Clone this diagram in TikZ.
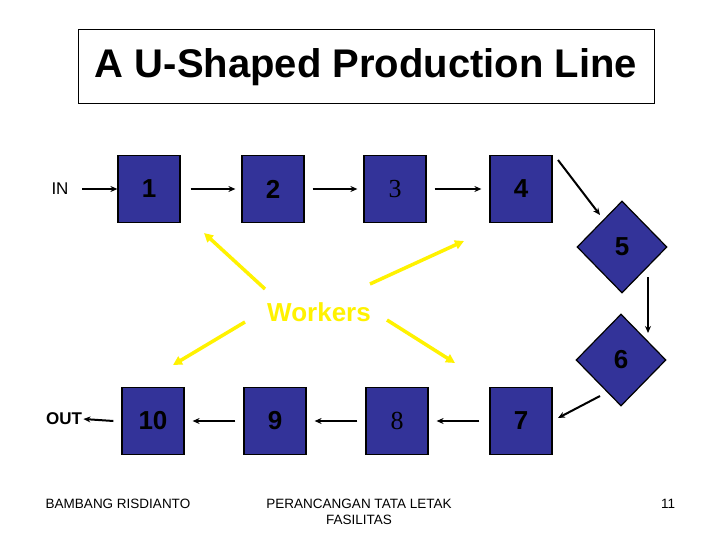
\documentclass[tikz,border=0pt]{standalone}
\usepackage{fontspec}
\setmainfont{Liberation Sans}
\newfontfamily\serif{Liberation Serif}
\usetikzlibrary{shapes.geometric,arrows.meta}
\definecolor{boxblue}{HTML}{333399}
\begin{document}
\begin{tikzpicture}[x=1pt,y=-1pt,
  stbox/.style={draw=black,line width=1.2pt,fill=boxblue,minimum width=62pt,minimum height=67pt,inner sep=0pt,font=\bfseries\fontsize{26}{26}\selectfont},
  dia/.style={diamond,draw=black,line width=1.2pt,fill=boxblue,minimum width=90pt,minimum height=92pt,inner sep=0pt,font=\bfseries\fontsize{26}{26}\selectfont},
  flow/.style={-{Stealth[length=7pt,width=6pt]},line width=2pt},
  yel/.style={-{Triangle[length=9pt,width=9pt]},line width=3.5pt,yellow},
  foot/.style={font=\fontsize{13.5}{16}\selectfont,align=center}]
\fill[white] (0,0) rectangle (720,540);
\node[draw,line width=1pt,minimum width=576pt,minimum height=74pt] (title) at (366,67) {\bfseries\fontsize{40}{40}\selectfont A U-Shaped Production Line};
\node[font=\fontsize{17}{17}\selectfont] (in) at (60,189) {IN};
\node[stbox] (b1) at (149,189) {1};
\node[stbox] (b2) at (273,189) {2};
\node[stbox] (b3) at (395,189) {\mdseries\serif 3};
\node[stbox] (b4) at (521,189) {4};
\node[dia] (d5) at (622,247) {5};
\node[dia] (d6) at (621,360) {6};
\node[stbox] (b7) at (521,421) {7};
\node[stbox] (b8) at (397,421) {\mdseries\serif 8};
\node[stbox] (b9) at (275,421) {9};
\node[stbox] (b10) at (153,421) {10};
\node[font=\bfseries\fontsize{17}{17}\selectfont] (out) at (64,419) {OUT};
\draw[flow] (in.east)++(10,0) -- (b1.west);
\draw[flow] (b1.east)++(10,0) -- ([xshift=-6pt]b2.west);
\draw[flow] (b2.east)++(8,0) -- ([xshift=-6pt]b3.west);
\draw[flow] (b3.east)++(8,0) -- ([xshift=-8pt]b4.west);
\coordinate (a1) at (558,160); \coordinate (a2) at (600,215);
\draw[flow] (a1) -- (a2);
\coordinate (c1) at (648,277); \coordinate (c2) at (648,333);
\draw[flow] (c1) -- (c2);
\coordinate (e1) at (600,396); \coordinate (e2) at (558,418);
\draw[flow] (e1) -- (e2);
\draw[flow] ([xshift=-10pt]b7.west) -- ([xshift=8pt]b8.east);
\draw[flow] ([xshift=-8pt]b8.west) -- ([xshift=8pt]b9.east);
\draw[flow] ([xshift=-8pt]b9.west) -- ([xshift=8pt]b10.east);
\draw[flow] ([xshift=-8pt]b10.west) -- ([xshift=-2pt]out.east);
\node[yellow,font=\bfseries\fontsize{26}{26}\selectfont] (w) at (319,312) {Workers};
\coordinate (y1) at (204,233); \coordinate (y2) at (464,241);
\coordinate (y3) at (173,365); \coordinate (y4) at (455,363);
\draw[yel] (265,289) -- (y1);
\draw[yel] (370,284) -- (y2);
\draw[yel] (245,322) -- (y3);
\draw[yel] (387,320) -- (y4);
\node[foot] (f1) at (118,504) {BAMBANG RISDIANTO};
\node[foot] (f2) at (359,512) {PERANCANGAN TATA LETAK\\FASILITAS};
\node[foot] (f3) at (668,504) {11};
\end{tikzpicture}
\end{document}
